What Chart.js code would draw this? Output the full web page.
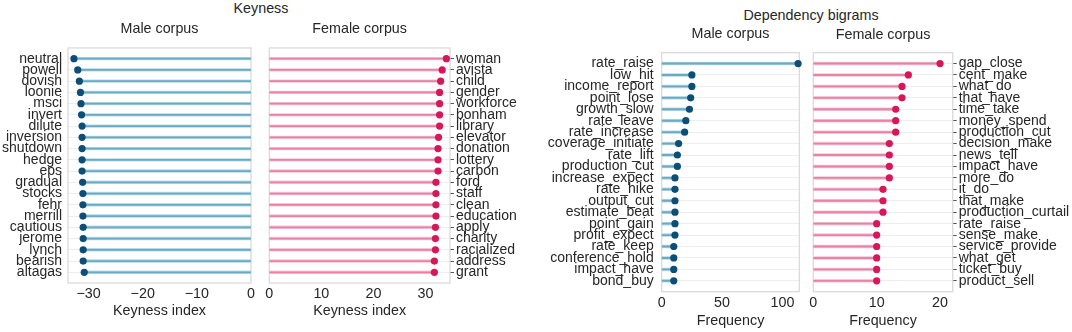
<!DOCTYPE html>
<html>
<head>
<meta charset="utf-8">
<script src="https://cdn.jsdelivr.net/npm/chart.js@4/dist/chart.umd.min.js"></script>
<style>
  body { margin: 0; background: #fff; }
  #wrap { position: relative; width: 1072px; height: 332px; overflow: hidden; font-family: 'Liberation Sans', Arial, sans-serif; color: #262626; }
  canvas { position: absolute; top: 0; }
  .sup { position: absolute; font-size: 14.3px; transform: translate(-50%, -50%); white-space: nowrap; }
</style>
</head>
<body>
<div id="wrap">
  <div class="sup" style="left:261px; top:8px;">Keyness</div>
  <div class="sup" style="left:811px; top:15px;">Dependency bigrams</div>
  <canvas id="c1" width="260" height="332" style="left:0px"></canvas>
  <canvas id="c2" width="270" height="332" style="left:260px"></canvas>
  <canvas id="c3" width="275" height="332" style="left:530px"></canvas>
  <canvas id="c4" width="267" height="332" style="left:805px"></canvas>
</div>
<script>
// keyness, male corpus
var keyMaleLabels = ['neutral', 'powell', 'dovish', 'loonie', 'msci', 'invert', 'dilute', 'inversion', 'shutdown', 'hedge',
  'eps', 'gradual', 'stocks', 'fehr', 'merrill', 'cautious', 'jerome', 'lynch', 'bearish', 'altagas'];
var keyMaleValues = [-32.7, -32.0, -31.7, -31.5, -31.4, -31.3, -31.2, -31.2, -31.2, -31.2,
  -31.2, -31.1, -31.05, -31.05, -31.05, -31.0, -31.0, -31.0, -31.0, -30.8];
var keyMaleTicks = [-30, -20, -10, 0];

// keyness, female corpus
var keyFemaleLabels = ['woman', 'avista', 'child', 'gender', 'workforce', 'bonham', 'library', 'elevator', 'donation', 'lottery',
  'carbon', 'ford', 'staff', 'clean', 'education', 'apply', 'charity', 'racialized', 'address', 'grant'];
var keyFemaleValues = [34.0, 33.2, 32.9, 32.7, 32.7, 32.7, 32.7, 32.5, 32.4, 32.4,
  32.4, 32.0, 32.0, 32.0, 32.0, 31.9, 31.9, 31.9, 31.7, 31.7];
var keyFemaleTicks = [0, 10, 20, 30];

// dependency bigrams, male corpus
var depMaleLabels = ['rate_raise', 'low_hit', 'income_report', 'point_lose', 'growth_slow', 'rate_leave', 'rate_increase',
  'coverage_initiate', 'rate_lift', 'production_cut', 'increase_expect', 'rate_hike', 'output_cut', 'estimate_beat',
  'point_gain', 'profit_expect', 'rate_keep', 'conference_hold', 'impact_have', 'bond_buy'];
var depMaleValues = [113, 25, 25, 24, 23, 20, 19, 14, 13, 13, 11, 11, 11, 11, 11, 11, 10, 10, 10, 10];
var depMaleTicks = [0, 50, 100];

// dependency bigrams, female corpus
var depFemaleLabels = ['gap_close', 'cent_make', 'what_do', 'that_have', 'time_take', 'money_spend', 'production_cut',
  'decision_make', 'news_tell', 'impact_have', 'more_do', 'it_do', 'that_make', 'production_curtail', 'rate_raise',
  'sense_make', 'service_provide', 'what_get', 'ticket_buy', 'product_sell'];
var depFemaleValues = [20, 15, 14, 14, 13, 13, 13, 12, 12, 12, 12, 11, 11, 11, 10, 10, 10, 10, 10, 10];
var depFemaleTicks = [0, 10, 20];

Chart.defaults.font.family = "'Liberation Sans', Arial, sans-serif";
Chart.defaults.font.size = 14;
Chart.defaults.color = '#262626';

var MALE = { dot: '#0b4f78', stem: '#6aaac4', halo: '#b9d9e6' };
var FEMALE = { dot: '#d6175a', stem: '#ea80a6', halo: '#f7c6d7' };

// light frame around each plot
var framePlugin = {
  id: 'frame',
  beforeDatasetsDraw: function (chart) {
    var a = chart.chartArea, ctx = chart.ctx;
    ctx.save();
    ctx.strokeStyle = '#d9d9d9';
    ctx.lineWidth = 1.25;
    ctx.strokeRect(a.left, a.top, a.right - a.left, a.bottom - a.top);
    ctx.restore();
  }
};

function makePanel(id, title, axisTitle, labels, values, xTicks, xmin, xmax, colors, g) {
  var pts = labels.map(function (l, i) { return { x: values[i], y: i }; });
  var right = g.side === 'right';
  new Chart(document.getElementById(id), {
    type: 'bar',
    data: {
      datasets: [
        { type: 'scatter', data: pts, backgroundColor: colors.dot, borderWidth: 0,
          pointRadius: 3.6, pointHoverRadius: 3.6, clip: false, order: 0 },
        { data: pts, indexAxis: 'y', backgroundColor: colors.stem, barThickness: 1.2,
          grouped: false, order: 1 },
        { data: pts, indexAxis: 'y', backgroundColor: colors.halo, barThickness: 2.8,
          grouped: false, order: 2 }
      ]
    },
    options: {
      responsive: false,
      animation: false,
      devicePixelRatio: 1,
      layout: { padding: { left: g.padLeft, right: g.padRight, top: 0, bottom: 0 } },
      plugins: {
        legend: { display: false },
        tooltip: { enabled: false },
        title: { display: true, text: title, fullSize: false, color: '#262626',
          font: { size: 14.3, weight: 'normal' }, padding: { top: g.titleTop, bottom: g.titleBottom } }
      },
      scales: {
        x: {
          type: 'linear', min: xmin, max: xmax, offset: false,
          afterBuildTicks: function (s) { s.ticks = xTicks.map(function (v) { return { value: v }; }); },
          afterFit: function (s) { s.height = g.xHeight; },
          grid: { display: false, drawTicks: false, offset: false },
          border: { display: false },
          ticks: { padding: g.xTickPad, color: '#262626', font: { size: 14.3 },
            callback: function (v) { return v < 0 ? '\u2212' + Math.abs(v) : String(v); } },
          title: { display: true, text: axisTitle, color: '#262626', font: { size: 14.3 },
            padding: { top: 0, bottom: g.xTitlePad } }
        },
        y: {
          type: 'linear', position: right ? 'right' : 'left', reverse: true, offset: false,
          min: -0.95, max: labels.length - 0.05,
          afterBuildTicks: function (s) { s.ticks = labels.map(function (l, i) { return { value: i }; }); },
          afterFit: function (s) { s.width = g.yWidth; },
          grid: { color: '#ededed', lineWidth: 1, drawTicks: right, tickLength: 4, tickColor: '#555', offset: false },
          border: { display: false },
          ticks: { autoSkip: false, padding: right ? 2 : g.yTickPad, color: '#262626', font: { size: 14 },
            callback: function (v) { return labels[v]; } }
        }
      }
    },
    plugins: [framePlugin]
  });
}

makePanel('c1', 'Male corpus', 'Keyness index', keyMaleLabels, keyMaleValues, keyMaleTicks, -33.8, 0, MALE,
  { side: 'left', yWidth: 68, padLeft: 0, padRight: 9, titleTop: 20.5, titleBottom: 10.3,
    xHeight: 49, xTickPad: 2, xTitlePad: 12.5, yTickPad: 6 });
makePanel('c2', 'Female corpus', 'Keyness index', keyFemaleLabels, keyFemaleValues, keyFemaleTicks, 0, 34.7, FEMALE,
  { side: 'right', yWidth: 80, padLeft: 9.3, padRight: 0, titleTop: 20.5, titleBottom: 10.3,
    xHeight: 49, xTickPad: 2, xTitlePad: 12.5 });
makePanel('c3', 'Male corpus', 'Frequency', depMaleLabels, depMaleValues, depMaleTicks, 0, 114, MALE,
  { side: 'left', yWidth: 131.7, padLeft: 0, padRight: 5.7, titleTop: 25.4, titleBottom: 10.1,
    xHeight: 40.3, xTickPad: 3, xTitlePad: 2.5, yTickPad: 8 });
makePanel('c4', 'Female corpus', 'Frequency', depFemaleLabels, depFemaleValues, depFemaleTicks, 0, 22, FEMALE,
  { side: 'right', yWidth: 119.3, padLeft: 8.3, padRight: 0, titleTop: 26.4, titleBottom: 9.1,
    xHeight: 40.3, xTickPad: 3, xTitlePad: 2.5 });
</script>
</body>
</html>
